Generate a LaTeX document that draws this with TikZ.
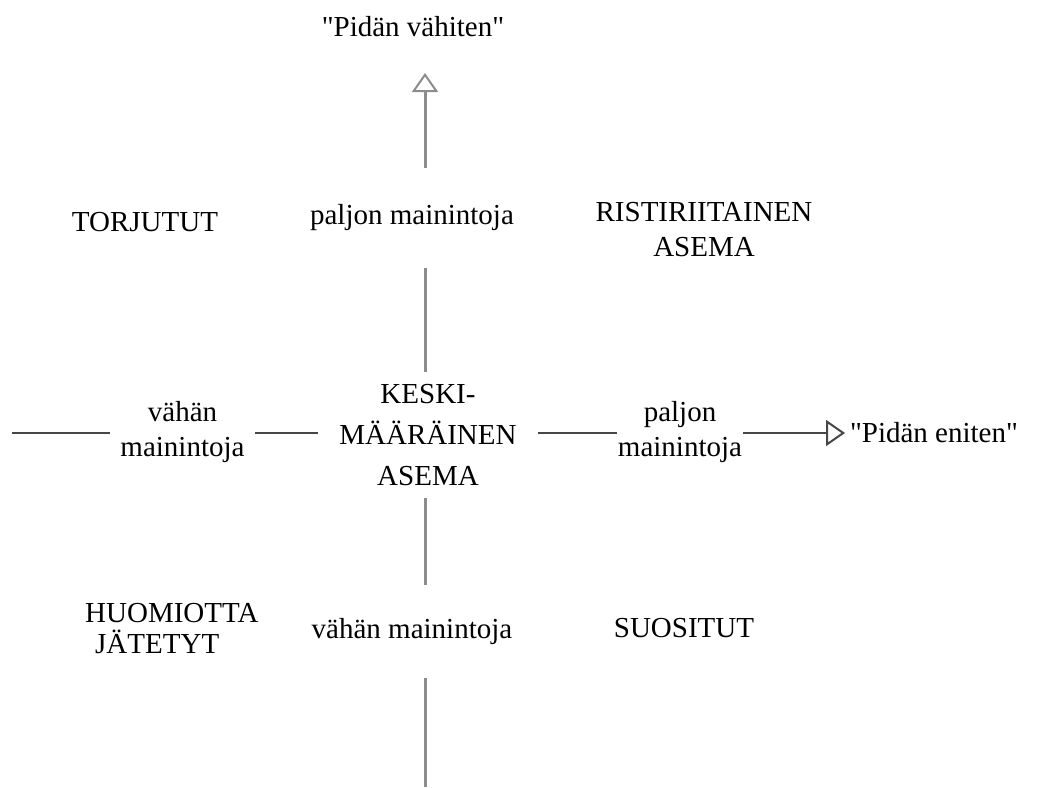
\documentclass[tikz,border=0pt]{standalone}
\usepackage{fontspec}
\setmainfont{Liberation Serif}[Ligatures=TeXOff]
\usetikzlibrary{positioning}
\usetikzlibrary{arrows.meta}
\tikzset{
    lbl/.style={ % Every text of the picture
        font=\fontsize{29}{35}\selectfont,
        align=center,
        inner sep=0pt
    },
    vaxis/.style={draw=black!45, line width=3pt}, % Vertical axis
    haxis/.style={draw=black!72, line width=2pt}, % Horizontal axis
    opentip/.style={-{Triangle[open, length=19pt, width=26pt, line width=2pt]}}
}

\begin{document}
\begin{tikzpicture}[x=1pt, y=-1pt]
    \useasboundingbox (0,0) rectangle (1040,787);

    % vertical axis
    \node[lbl] (least) at (413,27) {"Pidän vähiten"};
    \coordinate (uptip) at (425,73);
    \node[lbl, minimum height=100pt] (pmup) at (412,218) {paljon mainintoja};
    \node[lbl, font=\fontsize{29}{41}\selectfont, minimum height=126pt, minimum width=220pt] (ctr) at (428,435) {KESKI-\\MÄÄRÄINEN\\ASEMA};
    \node[lbl, minimum height=93pt] (vmdown) at (412,631.5) {vähän mainintoja};
    \coordinate (downend) at (425,787);

    \draw[vaxis, opentip] (pmup.north -| uptip) -- (uptip);
    \draw[vaxis] (pmup.south -| uptip) -- (ctr.north -| uptip);
    \draw[vaxis] (ctr.south -| uptip) -- (vmdown.north -| uptip);
    \draw[vaxis] (vmdown.south -| uptip) -- (downend);

    % horizontal axis
    \coordinate (leftend) at (12,433);
    \node[lbl, minimum width=145pt] (vmleft) at (182.5,432) {vähän\\mainintoja};
    \node[lbl, minimum width=126pt] (pmright) at (680,432) {paljon\\mainintoja};
    \coordinate (righttip) at (845,433);
    \node[lbl] (most) at (934,433) {"Pidän eniten"};

    \draw[haxis] (leftend) -- (vmleft.west |- leftend);
    \draw[haxis] (vmleft.east |- leftend) -- (ctr.west |- leftend);
    \draw[haxis] (ctr.east |- leftend) -- (pmright.west |- leftend);
    \draw[haxis, opentip] (pmright.east |- leftend) -- (righttip);

    % quadrants
    \node[lbl] (rejected) at (145,222) {TORJUTUT};
    \node[lbl] (conflict) at (704,230) {RISTIRIITAINEN\\ASEMA};
    \node[lbl, align=left, font=\fontsize{29}{31}\selectfont, anchor=west] (ignored) at (85,629) {HUOMIOTTA\\\hspace*{10pt}JÄTETYT};
    \node[lbl] (favoured) at (684,628) {SUOSITUT};
\end{tikzpicture}
\end{document}
